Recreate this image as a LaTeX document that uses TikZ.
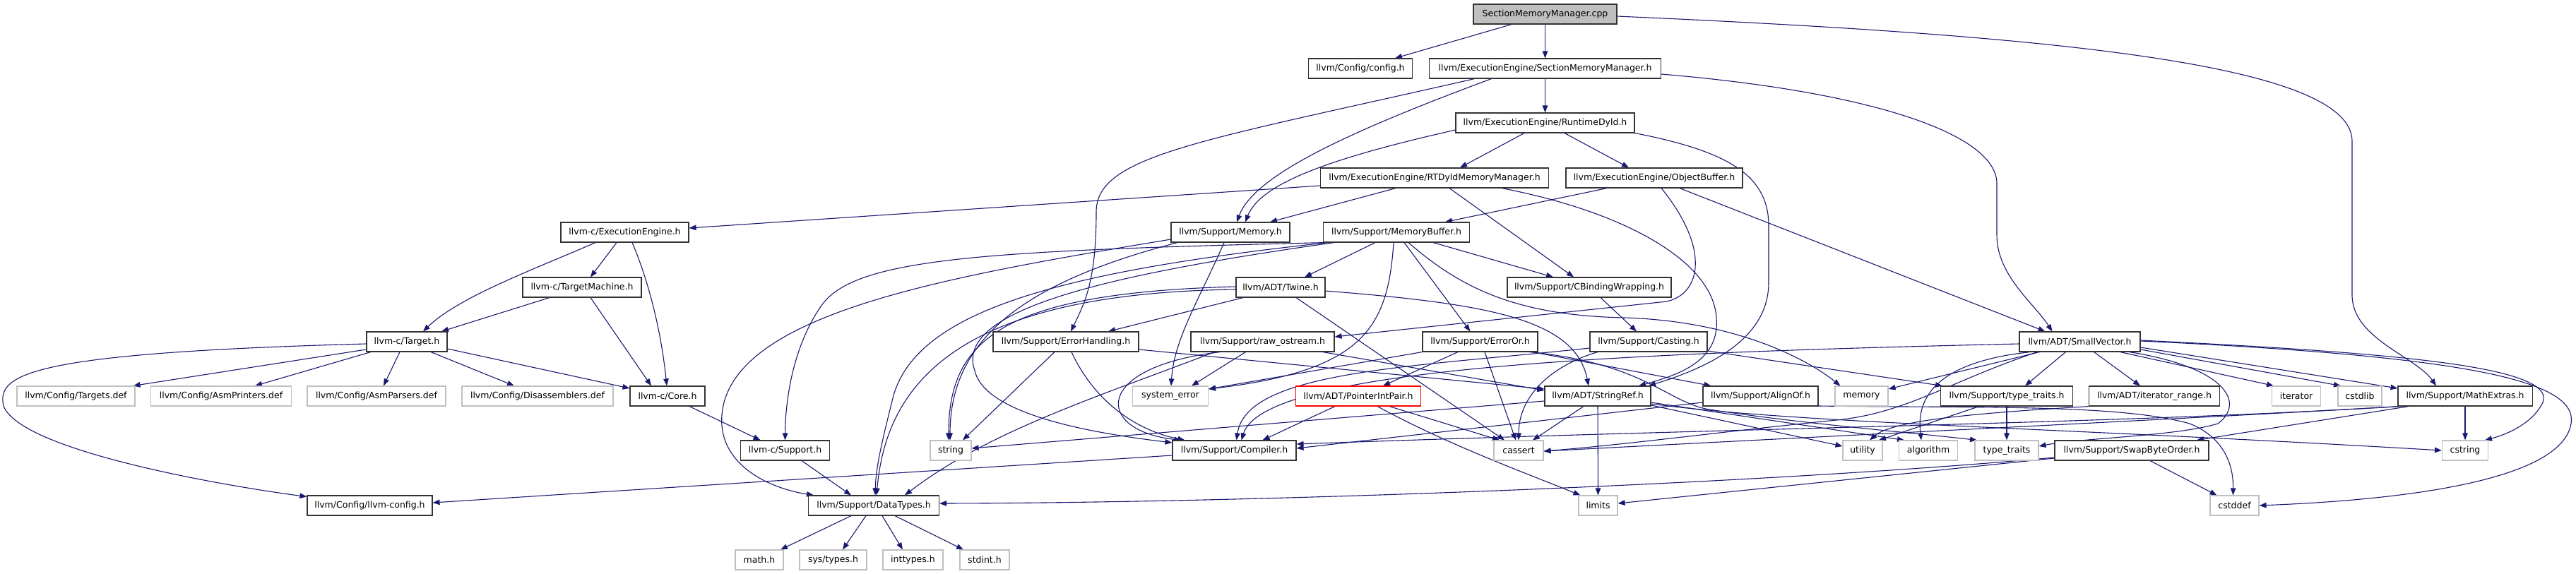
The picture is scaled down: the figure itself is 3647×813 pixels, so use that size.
\documentclass[tikz,border=0pt]{standalone}
\usepackage{fontspec}
\setmainfont{DejaVu Sans}
\usetikzlibrary{arrows.meta}
\pgfdeclarelayer{bg}
\pgfsetlayers{bg,main}
\definecolor{edgec}{HTML}{191970}
\definecolor{boxc}{HTML}{333333}
\definecolor{grayc}{HTML}{BFBFBF}
\definecolor{cppfill}{HTML}{BFBFBF}
\tikzset{
  hb/.style={draw=boxc, line width=1.1pt, fill=white, minimum height=28pt, inner sep=0pt, font=\fontsize{12.5}{15}\selectfont},
  sb/.style={hb, draw=grayc},
  rb/.style={hb, draw=red},
  cppb/.style={hb, fill=cppfill},
  edge/.style={draw=edgec, line width=1.1pt, -{Triangle[length=10pt,width=7.5pt]}}
}
\begin{document}
\begin{tikzpicture}[x=1pt,y=-1pt]
\path[use as bounding box] (0,0) rectangle (3647,813);
% nodes
\node[cppb, minimum width=203pt] (cpp) at (2187.5,20) {SectionMemoryManager.cpp};
\node[hb, minimum width=147pt] (config) at (1926,97) {llvm/Config/config.h};
\node[hb, minimum width=328pt] (smmh) at (2187.5,97) {llvm/ExecutionEngine/SectionMemoryManager.h};
\node[hb, minimum width=253pt] (rtdyld) at (2187.5,174) {llvm/ExecutionEngine/RuntimeDyld.h};
\node[hb, minimum width=323pt] (rtdmm) at (2031,252) {llvm/ExecutionEngine/RTDyldMemoryManager.h};
\node[hb, minimum width=250pt] (objbuf) at (2342,252) {llvm/ExecutionEngine/ObjectBuffer.h};
\node[hb, minimum width=181pt] (cee) at (884.5,329) {llvm-c/ExecutionEngine.h};
\node[hb, minimum width=168pt] (memh) at (1742,329) {llvm/Support/Memory.h};
\node[hb, minimum width=207pt] (membuf) at (1977,329) {llvm/Support/MemoryBuffer.h};
\node[hb, minimum width=168pt] (ctm) at (824,407) {llvm-c/TargetMachine.h};
\node[hb, minimum width=126pt] (twine) at (1813,407) {llvm/ADT/Twine.h};
\node[hb, minimum width=232pt] (cbind) at (2250,407) {llvm/Support/CBindingWrapping.h};
\node[hb, minimum width=114pt] (ctarget) at (576,484) {llvm-c/Target.h};
\node[hb, minimum width=206pt] (errhand) at (1509,484) {llvm/Support/ErrorHandling.h};
\node[hb, minimum width=203pt] (rawos) at (1787.5,484) {llvm/Support/raw\_ostream.h};
\node[hb, minimum width=163pt] (erroror) at (2095.5,484) {llvm/Support/ErrorOr.h};
\node[hb, minimum width=166pt] (casting) at (2334,484) {llvm/Support/Casting.h};
\node[hb, minimum width=171pt] (smallvec) at (2944.5,484) {llvm/ADT/SmallVector.h};
\node[sb, minimum width=167pt] (targets) at (107.5,561) {llvm/Config/Targets.def};
\node[sb, minimum width=199pt] (asmprinters) at (313,561) {llvm/Config/AsmPrinters.def};
\node[sb, minimum width=196pt] (asmparsers) at (533,561) {llvm/Config/AsmParsers.def};
\node[sb, minimum width=214pt] (disasm) at (761,561) {llvm/Config/Disassemblers.def};
\node[hb, minimum width=106pt] (ccore) at (945,561) {llvm-c/Core.h};
\node[sb, minimum width=107pt] (syserr) at (1657,561) {system\_error};
\node[rb, minimum width=177pt] (pip) at (1923,561) {llvm/ADT/PointerIntPair.h};
\node[hb, minimum width=150pt] (strref) at (2262,561) {llvm/ADT/StringRef.h};
\node[hb, minimum width=163pt] (alignof) at (2492.5,561) {llvm/Support/AlignOf.h};
\node[sb, minimum width=75pt] (memory) at (2635.5,561) {memory};
\node[hb, minimum width=187pt] (stt) at (2841,561) {llvm/Support/type\_traits.h};
\node[hb, minimum width=185pt] (iterrange) at (3050,561) {llvm/ADT/iterator\_range.h};
\node[sb, minimum width=69pt] (iterator) at (3251,561) {iterator};
\node[sb, minimum width=62pt] (cstdlib) at (3341,561) {cstdlib};
\node[hb, minimum width=190pt] (mathx) at (3490,561) {llvm/Support/MathExtras.h};
\node[hb, minimum width=126pt] (csupport) at (1111.5,638) {llvm-c/Support.h};
\node[sb, minimum width=58pt] (string) at (1346,638) {string};
\node[hb, minimum width=175pt] (compiler) at (1747.5,638) {llvm/Support/Compiler.h};
\node[sb, minimum width=70pt] (cassert) at (2150,638) {cassert};
\node[sb, minimum width=56pt] (utility) at (2637,638) {utility};
\node[sb, minimum width=83pt] (algorithm) at (2730,638) {algorithm};
\node[sb, minimum width=90pt] (ttraits) at (2841,638) {type\_traits};
\node[hb, minimum width=218pt] (swapb) at (3018,638) {llvm/Support/SwapByteOrder.h};
\node[sb, minimum width=65pt] (cstring) at (3490,638) {cstring};
\node[hb, minimum width=177pt] (llvmconfig) at (523.5,716) {llvm/Config/llvm-config.h};
\node[hb, minimum width=185pt] (datatypes) at (1237,716) {llvm/Support/DataTypes.h};
\node[sb, minimum width=55pt] (limits) at (2262.5,716) {limits};
\node[sb, minimum width=69pt] (cstddef) at (3163.5,716) {cstddef};
\node[sb, minimum width=68pt] (math) at (1075,793) {math.h};
\node[sb, minimum width=95pt] (systypes) at (1179.5,793) {sys/types.h};
\node[sb, minimum width=85pt] (inttypes) at (1292.5,793) {inttypes.h};
\node[sb, minimum width=70pt] (stdint) at (1394,793) {stdint.h};
% edges
\begin{pgfonlayer}{bg}
\draw[edge] ([xshift=-47.5pt]cpp.south) -- ([xshift=49pt]config.north);
\draw[edge] (cpp.south) -- (smmh.north);
\draw[edge] ([yshift=-3pt]cpp.east) .. controls (2900,50) and (3330,90) .. (3330,200) -- (3330,420) .. controls (3332,480) and (3420,505) .. ([xshift=-41pt]mathx.north);
\draw[edge] (smmh.south) -- (rtdyld.north);
\draw[edge] ([xshift=-100pt]smmh.south) .. controls (1700,200) and (1552,220) .. (1552,300) .. controls (1552,400) and (1535,430) .. ([xshift=7pt]errhand.north);
\draw[edge] ([xshift=-76pt]smmh.south) .. controls (1900,190) and (1775,250) .. ([xshift=9pt]memh.north);
\draw[edge] ([yshift=-8pt]smmh.east) .. controls (2650,130) and (2827,190) .. (2827,260) -- (2827,333) .. controls (2827,390) and (2880,430) .. ([xshift=-39pt]smallvec.north);
\draw[edge] ([xshift=-29.5pt]rtdyld.south) -- ([xshift=36pt]rtdmm.north);
\draw[edge] ([xshift=27.5pt]rtdyld.south) -- ([xshift=-36pt]objbuf.north);
\draw[edge] ([yshift=-10pt]rtdyld.west) .. controls (1880,225) and (1785,260) .. ([xshift=21pt]memh.north);
\draw[edge] (rtdyld.south east) .. controls (2450,215) and (2504,250) .. (2504,320) -- (2504,400) .. controls (2504,480) and (2420,520) .. ([xshift=72pt]strref.north);
\draw[edge] ([yshift=-11pt]rtdmm.west) -- ([yshift=6pt]cee.east);
\draw[edge] ([xshift=-55pt]rtdmm.south) -- ([xshift=56pt]memh.north);
\draw[edge] ([xshift=21pt]rtdmm.south) -- ([xshift=-22pt]cbind.north);
\draw[edge] ([xshift=95pt]rtdmm.south) .. controls (2300,300) and (2425,370) .. (2430,450) .. controls (2435,510) and (2380,530) .. ([xshift=58pt]strref.north);
\draw[edge] ([xshift=-67pt]objbuf.south) -- ([xshift=69pt]membuf.north);
\draw[edge] ([xshift=10pt]objbuf.south) .. controls (2420,350) and (2410,415) .. (2360,427) -- ([yshift=7pt]rawos.east);
\draw[edge] ([xshift=36pt]objbuf.south) -- ([xshift=-49pt]smallvec.north);
\draw[edge] ([xshift=-41.5pt]cee.south) .. controls (760,380) and (650,420) .. ([xshift=23pt]ctarget.north);
\draw[edge] ([xshift=-11.5pt]cee.south) -- ([xshift=12pt]ctm.north);
\draw[edge] ([xshift=10.5pt]cee.south) .. controls (915,390) and (935,460) .. ([xshift=-1pt]ccore.north);
\draw[edge] ([xshift=-46pt]ctm.south) -- ([xshift=49pt]ctarget.north);
\draw[edge] ([xshift=12pt]ctm.south) -- ([xshift=-23pt]ccore.north);
\draw[edge] ([yshift=-11pt]ctarget.west) -- ([xshift=81pt]targets.north);
\draw[edge] ([xshift=-51pt]ctarget.south) -- ([xshift=48pt]asmprinters.north);
\draw[edge] ([xshift=-10pt]ctarget.south) -- ([xshift=10pt]asmparsers.north);
\draw[edge] ([xshift=34pt]ctarget.south) -- ([xshift=-33pt]disasm.north);
\draw[edge] ([yshift=-10pt]ctarget.east) -- ([yshift=11pt]ccore.west);
\draw[edge] ([yshift=-3pt]ctarget.west) .. controls (40,500) and (-5,530) .. (5,575) .. controls (30,640) and (330,690) .. ([yshift=-2pt]llvmconfig.north west);
\draw[edge] ([xshift=31pt]ccore.south) -- ([xshift=-35pt]csupport.north);
\draw[edge] ([xshift=23.5pt]csupport.south) -- ([xshift=-32pt]datatypes.north);
\draw[edge] ([xshift=-32pt]datatypes.south) -- ([xshift=30pt]math.north);
\draw[edge] ([xshift=-11pt]datatypes.south) -- ([xshift=13.5pt]systypes.north);
\draw[edge] ([xshift=12pt]datatypes.south) -- ([xshift=-14.5pt]inttypes.north);
\draw[edge] ([xshift=30pt]datatypes.south) -- ([xshift=-30pt]stdint.north);
\draw[edge] ([yshift=-10pt]memh.west) .. controls (1350,390) and (1060,440) .. (1025,570) .. controls (1005,650) and (1080,690) .. ([xshift=-85pt]datatypes.north);
\draw[edge] ([xshift=-75pt]memh.south) .. controls (1450,400) and (1345,480) .. ([xshift=-1pt]string.north);
\draw[edge] ([xshift=-9pt]memh.south) .. controls (1700,420) and (1662,480) .. ([xshift=1pt]syserr.north);
\draw[edge] ([xshift=-100pt]membuf.south) .. controls (1400,355) and (1215,365) .. (1165,430) .. controls (1125,485) and (1112,560) .. (csupport.north);
\draw[edge] ([xshift=-30pt]membuf.south) -- ([xshift=34pt]twine.north);
\draw[edge] ([xshift=52pt]membuf.south) -- ([xshift=-51pt]cbind.north);
\draw[edge] ([xshift=-88pt]membuf.south) .. controls (1560,390) and (1350,440) .. (1380,525) .. controls (1395,590) and (1560,615) .. ([yshift=11pt]compiler.west);
\draw[edge] ([xshift=-97pt]membuf.south) .. controls (1500,385) and (1300,440) .. (1265,560) .. controls (1250,620) and (1240,660) .. ([xshift=2pt]datatypes.north);
\draw[edge] ([xshift=11pt]membuf.south) -- ([xshift=-14pt]erroror.north);
\draw[edge] ([xshift=17pt]membuf.south) .. controls (2070,410) and (2150,447) .. (2300,450) .. controls (2460,455) and (2560,510) .. ([xshift=-30pt]memory.north);
\draw[edge] ([xshift=-4pt]membuf.south) .. controls (1965,465) and (1930,525) .. ([yshift=10pt]syserr.east);
\draw[edge] ([yshift=-5pt]twine.east) .. controls (2100,430) and (2230,450) .. ([xshift=-13pt]strref.north);
\draw[edge] ([xshift=-53pt]twine.south) -- ([xshift=60pt]errhand.north);
\draw[edge] ([xshift=22pt]twine.south) -- ([xshift=-20pt]cassert.north);
\draw[edge] ([yshift=1pt]twine.west) .. controls (1420,415) and (1343,480) .. ([xshift=-3pt]string.north);
\draw[edge] ([yshift=-3pt]twine.west) .. controls (1360,415) and (1255,540) .. ([xshift=4pt]datatypes.north);
\draw[edge] ([xshift=8pt]errhand.south) .. controls (1550,570) and (1610,610) .. ([xshift=-70pt]compiler.north);
\draw[edge] ([xshift=-16pt]errhand.south) -- ([xshift=17pt]string.north);
\draw[edge] ([yshift=-11pt]errhand.east) -- ([yshift=10pt]strref.west);
\draw[edge] ([xshift=-24pt]rawos.south) -- ([xshift=30pt]syserr.north);
\draw[edge] ([xshift=-60pt]rawos.south) .. controls (1545,520) and (1550,610) .. ([xshift=-75pt]compiler.north);
\draw[edge] ([xshift=-68pt]rawos.south) .. controls (1560,560) and (1400,610) .. ([xshift=44pt]datatypes.north);
\draw[edge] ([xshift=85pt]rawos.south) -- ([yshift=8pt]strref.west);
\draw[edge] ([xshift=-31.5pt]erroror.south) -- ([xshift=35pt]pip.north);
\draw[edge] ([xshift=6.5pt]erroror.south) -- ([xshift=-4pt]cassert.north);
\draw[edge] ([xshift=74pt]erroror.south) -- ([xshift=-70pt]alignof.north);
\draw[edge] (erroror.south west) -- ([yshift=10pt]syserr.east);
\draw[edge] ([xshift=70pt]erroror.south) .. controls (2330,515) and (2360,570) .. (2420,580) .. controls (2550,600) and (2700,612) .. ([xshift=-42pt]ttraits.north);
\draw[edge] ([yshift=-13pt]casting.east) -- ([xshift=-91pt]stt.north);
\draw[edge] ([xshift=-72pt]casting.south) .. controls (2190,520) and (2150,565) .. (cassert.north);
\draw[edge] ([yshift=-9pt]casting.west) .. controls (2000,520) and (1765,525) .. ([xshift=3pt]compiler.north);
\draw[edge] ([xshift=-33pt]pip.south) -- ([xshift=40pt]compiler.north);
\draw[edge] ([xshift=44pt]pip.south) -- ([xshift=-27pt]cassert.north);
\draw[edge] ([xshift=27pt]pip.south) .. controls (2050,630) and (2160,670) .. ([xshift=-25pt]limits.north);
\draw[edge] ([yshift=-7pt]strref.west) -- ([yshift=3pt]string.east);
\draw[edge] ([xshift=-20pt]strref.south) -- ([xshift=20pt]cassert.north);
\draw[edge] (strref.south) -- (limits.north);
\draw[edge] ([yshift=-13pt]strref.east) -- ([yshift=6pt]utility.west);
\draw[edge] ([yshift=-9pt]strref.east) -- ([xshift=-34pt]algorithm.north);
\draw[edge] ([yshift=-11pt]strref.east) .. controls (2550,600) and (2900,605) .. (cstring.west);
\draw[edge] ([yshift=-9pt]alignof.west) -- ([yshift=3pt]compiler.east);
\draw[edge] ([yshift=-14pt]alignof.east) .. controls (2800,578) and (3000,572) .. (3100,600) .. controls (3150,620) and (3162,660) .. ([xshift=-2pt]cstddef.north);
\draw[edge] ([yshift=-3pt]smallvec.west) .. controls (2300,500) and (1790,520) .. ([xshift=10pt]compiler.north);
\draw[edge] ([xshift=-60pt]smallvec.south) .. controls (2760,540) and (2700,585) .. (2600,595) .. controls (2450,610) and (2300,630) .. ([yshift=-1pt]cassert.east);
\draw[edge] ([xshift=-57pt]smallvec.south) -- ([yshift=10pt]memory.east);
\draw[edge] ([xshift=-20pt]smallvec.south) -- ([xshift=26pt]stt.north);
\draw[edge] ([xshift=20pt]smallvec.south) -- ([xshift=-20pt]iterrange.north);
\draw[edge] ([xshift=57pt]smallvec.south) -- ([xshift=-32pt]iterator.north);
\draw[edge] ([yshift=-11pt]smallvec.east) -- ([xshift=-27pt]cstdlib.north);
\draw[edge] ([yshift=-8pt]smallvec.east) -- ([yshift=11pt]mathx.west);
\draw[edge] ([yshift=2pt]smallvec.east) .. controls (3400,500) and (3620,520) .. (3600,570) .. controls (3585,600) and (3550,615) .. ([xshift=28pt]cstring.north);
\draw[edge] ([yshift=1pt]smallvec.east) .. controls (3500,505) and (3650,540) .. (3640,600) .. controls (3625,690) and (3350,710) .. (cstddef.east);
\draw[edge] ([xshift=-70pt]smallvec.south) .. controls (2720,515) and (2715,580) .. ([xshift=-10pt]algorithm.north);
\draw[edge] ([xshift=70pt]smallvec.south) .. controls (3150,520) and (3180,570) .. (3140,600) .. controls (3080,618) and (2950,620) .. ([yshift=6pt]ttraits.east);
\draw[edge] ([xshift=-39pt]stt.south) -- ([xshift=23pt]utility.north);
\draw[edge] (stt.south) -- (ttraits.north);
\draw[edge] ([xshift=-92pt]iterrange.south) .. controls (2800,585) and (2680,595) .. ([xshift=10pt]utility.north);
\draw[edge] ([xshift=-93pt]mathx.south) .. controls (3000,600) and (2500,605) .. ([yshift=9pt]compiler.east);
\draw[edge] ([xshift=-90pt]mathx.south) .. controls (3000,598) and (2700,612) .. ([yshift=-1pt]cassert.east);
\draw[edge] ([xshift=-80pt]mathx.south) -- ([xshift=92pt]swapb.north);
\draw[edge] (mathx.south) -- (cstring.north);
\draw[edge] ([yshift=-10pt]swapb.west) .. controls (2500,685) and (1800,712) .. ([yshift=3pt]datatypes.east);
\draw[edge] ([yshift=-11pt]swapb.west) -- ([yshift=3pt]limits.east);
\draw[edge] ([xshift=26pt]swapb.south) -- ([xshift=-25pt]cstddef.north);
\draw[edge] ([yshift=-7pt]compiler.west) -- ([yshift=4pt]llvmconfig.east);
\draw[edge] ([xshift=16pt]cbind.south) -- ([xshift=-17pt]casting.north);
\end{pgfonlayer}
\end{tikzpicture}
\end{document}
